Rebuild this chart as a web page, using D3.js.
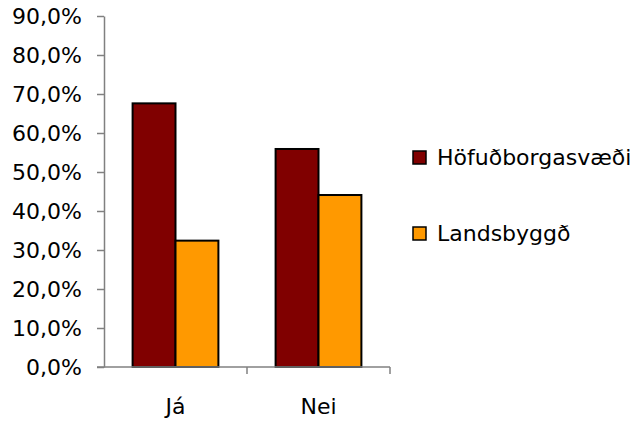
<!DOCTYPE html>
<html>
<head>
<meta charset="utf-8">
<script src="https://cdn.jsdelivr.net/npm/d3@7"></script>
<style>
  body { margin: 0; background: #fff; }
  text { font-family: "DejaVu Sans", Verdana, sans-serif; fill: #000; }
</style>
</head>
<body>
<script>
var categories = ["Já", "Nei"];
var seriesNames = ["Höfuðborgasvæði", "Landsbyggð"];
var seriesColors = ["#800000", "#ff9900"];
var hofudborg = [67.6, 55.9];
var landsbyggd = [32.4, 44.1];
var yTicks = [0, 10, 20, 30, 40, 50, 60, 70, 80, 90];

var w = 638;
var h = 421;

var svg = d3.select("body")
            .append("svg")
            .attr("width", w)
            .attr("height", h);

var x = d3.scaleBand()
          .domain(categories)
          .range([104, 390])
          .paddingInner(0.4)
          .paddingOuter(0.2);

var y = d3.scaleLinear()
          .domain([0, 90])
          .range([367, 16]);

var x1 = d3.scaleBand()
           .domain(seriesNames)
           .range([0, x.bandwidth()]);

var data = categories.map(function(c, i){
  return { cat: c, vals: [hofudborg[i], landsbyggd[i]] };
});

// bars
var groups = svg.selectAll("g.cat")
                .data(data)
                .enter()
                .append("g")
                .attr("class", "cat")
                .attr("transform", function(d){ return "translate(" + x(d.cat) + ",0)"; });

groups.selectAll("rect")
      .data(function(d){ return d.vals; })
      .enter()
      .append("rect")
      .attr("x", function(d, i){ return x1(seriesNames[i]); })
      .attr("y", function(d){ return y(d); })
      .attr("width", x1.bandwidth())
      .attr("height", function(d){ return y(0) - y(d); })
      .attr("fill", function(d, i){ return seriesColors[i]; })
      .attr("stroke", "#000")
      .attr("stroke-width", 2);

// y axis
var yAxis = svg.append("g")
               .attr("transform", "translate(104,0)")
               .call(d3.axisLeft(y)
                       .tickValues(yTicks)
                       .tickSize(7)
                       .tickSizeOuter(0)
                       .tickFormat(function(d){ return d3.format(".1f")(d).replace(".", ",") + "%"; }));
yAxis.select(".domain").attr("stroke", "#808080").attr("stroke-width", 1.5);
yAxis.selectAll(".tick line").attr("stroke", "#808080").attr("stroke-width", 1.5);
yAxis.selectAll(".tick text")
     .attr("x", -22)
     .style("font-size", "22px")
     .style("font-family", "'DejaVu Sans', Verdana, sans-serif");

// x axis
var xAxis = svg.append("g")
               .attr("transform", "translate(0,367)");
xAxis.append("line")
     .attr("x1", 97).attr("x2", 390)
     .attr("y1", 0).attr("y2", 0)
     .attr("stroke", "#808080").attr("stroke-width", 1.5);
xAxis.selectAll("line.tk")
     .data(categories.map(function(c, i){ return 104 + (390 - 104) / categories.length * (i + 1); }))
     .enter()
     .append("line")
     .attr("class", "tk")
     .attr("x1", function(d){ return d; })
     .attr("x2", function(d){ return d; })
     .attr("y1", 0).attr("y2", 7)
     .attr("stroke", "#808080").attr("stroke-width", 1.5);
xAxis.selectAll("text")
     .data(categories)
     .enter()
     .append("text")
     .attr("x", function(d){ return x(d) + x.bandwidth() / 2; })
     .attr("y", 47)
     .attr("text-anchor", "middle")
     .style("font-size", "22px")
     .text(function(d){ return d; });

// legend
var legend = svg.selectAll("g.legend")
                .data(seriesNames)
                .enter()
                .append("g")
                .attr("class", "legend")
                .attr("transform", function(d, i){ return "translate(413," + (151 + i * 76) + ")"; });
legend.append("rect")
      .attr("width", 13)
      .attr("height", 13)
      .attr("fill", function(d, i){ return seriesColors[i]; })
      .attr("stroke", "#000")
      .attr("stroke-width", 1.5);
legend.append("text")
      .attr("x", 24)
      .attr("y", 14)
      .style("font-size", "22px")
      .text(function(d){ return d; });
</script>
</body>
</html>
